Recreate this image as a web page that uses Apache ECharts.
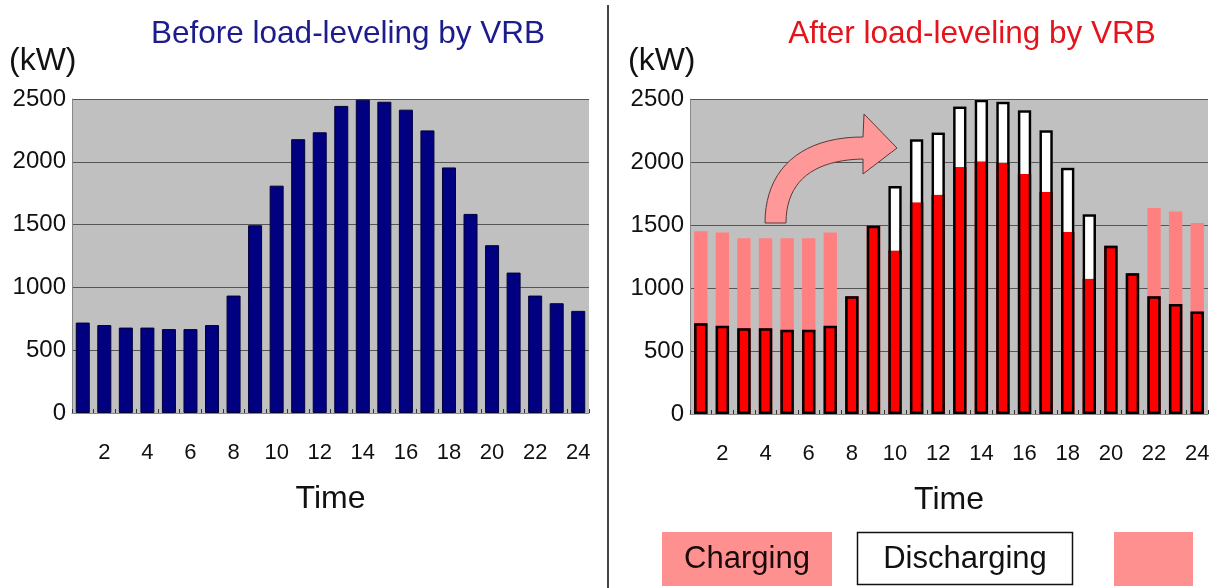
<!DOCTYPE html>
<html lang="en">
<head>
    <meta charset="UTF-8">
    <title>Load-leveling by VRB</title>
    <script src="https://cdn.jsdelivr.net/npm/echarts@6/dist/echarts.min.js"></script>
    <style>
        html, body { margin: 0; padding: 0; background: #fff; }
        #main { width: 1224px; height: 588px; }
    </style>
</head>
<body>
    <div id="main"></div>
    <script>
    // hours 1..24
    var hours = ['1','2','3','4','5','6','7','8','9','10','11','12','13','14','15','16','17','18','19','20','21','22','23','24'];
    // load before VRB (kW)
    var beforeLoad = [720, 700, 680, 680, 668, 668, 700, 935, 1495, 1810, 2180, 2235, 2445, 2495, 2478, 2415, 2250, 1955, 1585, 1336, 1118, 935, 874, 813];
    // load after VRB (kW), red part
    var afterLoad = [720, 700, 680, 680, 668, 668, 700, 935, 1495, 1298, 1680, 1740, 1960, 2005, 1995, 1905, 1762, 1444, 1074, 1336, 1118, 935, 874, 813];
    // charging (pink, on top of red)
    var charging = [730, 740, 715, 715, 727, 727, 740, 0, 0, 0, 0, 0, 0, 0, 0, 0, 0, 0, 0, 0, 0, 700, 733, 702];
    // discharging (white, on top of red)
    var discharging = [0, 0, 0, 0, 0, 0, 0, 0, 0, 512, 500, 495, 480, 490, 483, 505, 490, 511, 511, 0, 0, 0, 0, 0];
    var yTicks = [0, 500, 1000, 1500, 2000, 2500];

    var font = 'Liberation Sans, Arial, sans-serif';

    // outline covers red + white part
    var outline = afterLoad.map(function (v, i) { return v + discharging[i]; });

    // curved arrow outline (decoration), sampled from two cubic curves
    function cubic(p0, p1, p2, p3, n) {
        var pts = [];
        for (var i = 0; i <= n; i++) {
            var t = i / n, u = 1 - t;
            pts.push([
                u*u*u*p0[0] + 3*u*u*t*p1[0] + 3*u*t*t*p2[0] + t*t*t*p3[0],
                u*u*u*p0[1] + 3*u*u*t*p1[1] + 3*u*t*t*p2[1] + t*t*t*p3[1]
            ]);
        }
        return pts;
    }
    var arrowPts = cubic([765, 223], [765, 170], [800, 137], [863, 137], 20)
        .concat([[864, 114], [897, 148], [863, 174]])
        .concat(cubic([863, 159], [815, 160], [786, 180], [786, 223], 20));

    function xAx(idx) {
        return {
            type: 'category',
            gridIndex: idx,
            data: hours,
            name: 'Time',
            nameLocation: 'middle',
            nameGap: 70,
            nameTextStyle: { fontSize: 32, color: '#111', fontFamily: font },
            axisLine: { lineStyle: { color: '#888', width: 1 } },
            axisTick: { show: true, inside: true, length: 4, interval: 0, lineStyle: { color: '#333' } },
            axisLabel: {
                interval: function (index) { return index % 2 === 1; },
                margin: 29,
                fontSize: 22,
                color: '#111',
                fontFamily: font
            }
        };
    }
    function yAx(idx) {
        return {
            type: 'value',
            gridIndex: idx,
            min: yTicks[0],
            max: yTicks[yTicks.length - 1],
            interval: 500,
            axisLine: { show: true, lineStyle: { color: '#888' } },
            axisTick: { show: false },
            splitLine: { lineStyle: { color: '#555', width: 1 } },
            axisLabel: {
                fontSize: 24, color: '#111', fontFamily: font, margin: 6,
                formatter: function (v) { return String(v); }
            }
        };
    }

    var myChart = echarts.init(document.getElementById('main'));
    var option = {
        animation: false,
        title: [
            { text: 'Before load-leveling by VRB', left: 343, top: 13, textAlign: 'center',
              textStyle: { fontSize: 31.5, fontWeight: 'normal', color: '#1c1c8c', fontFamily: font } },
            { text: 'After load-leveling by VRB', left: 967, top: 13, textAlign: 'center',
              textStyle: { fontSize: 31.5, fontWeight: 'normal', color: '#e3141c', fontFamily: font } }
        ],
        grid: [
            { left: 72, right: 635, top: 99, bottom: 175, show: true, backgroundColor: '#c0c0c0', borderWidth: 0 },
            { left: 690, right: 16, top: 99, bottom: 174, show: true, backgroundColor: '#c0c0c0', borderWidth: 0 }
        ],
        xAxis: [xAx(0), xAx(1)],
        yAxis: [yAx(0), yAx(1)],
        series: [
            {
                name: 'Before', type: 'bar', xAxisIndex: 0, yAxisIndex: 0,
                data: beforeLoad, barWidth: '65%',
                itemStyle: { color: '#000080', borderColor: '#00003a', borderWidth: 1 }
            },
            {
                name: 'After', type: 'bar', xAxisIndex: 1, yAxisIndex: 1, stack: 'after',
                data: afterLoad, barWidth: '62%',
                itemStyle: { color: '#ff0000' }
            },
            {
                name: 'Discharging', type: 'bar', xAxisIndex: 1, yAxisIndex: 1, stack: 'after',
                data: discharging, barWidth: '62%',
                itemStyle: { color: '#ffffff' }
            },
            {
                name: 'Charging', type: 'bar', xAxisIndex: 1, yAxisIndex: 1, stack: 'after',
                data: charging, barWidth: '62%',
                itemStyle: { color: '#ff8080' }
            },
            {
                name: 'Outline', type: 'bar', xAxisIndex: 1, yAxisIndex: 1,
                data: outline, barWidth: '62%', barGap: '-100%', z: 5,
                itemStyle: { color: 'rgba(0,0,0,0)', borderColor: '#000', borderWidth: 2.5 }
            }
        ],
        graphic: [
            { type: 'text', x: 9, y: 45, style: { text: '(kW)', font: '32px ' + font, fill: '#111' } },
            { type: 'text', x: 628, y: 45, style: { text: '(kW)', font: '32px ' + font, fill: '#111' } },
            { type: 'line', shape: { x1: 608, y1: 5, x2: 608, y2: 588 }, style: { stroke: '#444', lineWidth: 2 } },
            {
                type: 'polygon', z: 10,
                shape: { points: arrowPts },
                style: { fill: '#ff9999', stroke: '#5a3a3a', lineWidth: 1 }
            },
            // legend boxes
            { type: 'rect', shape: { x: 662, y: 532, width: 170, height: 54 }, style: { fill: '#ff9090' } },
            { type: 'text', x: 747, y: 559, style: { text: 'Charging', font: '31px ' + font, fill: '#1a0a0a', textAlign: 'center', textVerticalAlign: 'middle' } },
            { type: 'rect', shape: { x: 857.5, y: 532.5, width: 215, height: 52 }, style: { fill: '#fff', stroke: '#111', lineWidth: 1.5 } },
            { type: 'text', x: 965, y: 559, style: { text: 'Discharging', font: '31px ' + font, fill: '#111', textAlign: 'center', textVerticalAlign: 'middle' } },
            { type: 'rect', shape: { x: 1114, y: 532, width: 79, height: 54 }, style: { fill: '#ff9090' } }
        ]
    };
    myChart.setOption(option);
    </script>
</body>
</html>
